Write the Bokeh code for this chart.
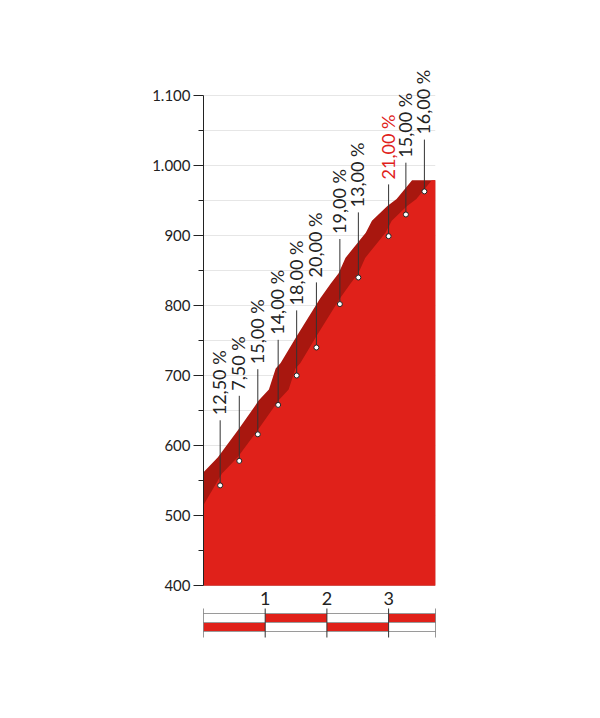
import math
from bokeh.plotting import figure
from bokeh.models import Range1d, FixedTicker, ColumnDataSource
from bokeh.core.properties import value
from bokeh.embed import file_html
from bokeh.resources import INLINE

# ---------------- data ----------------
total_km = 3.76
profile_km = [0.0, 0.30, 0.55, 0.88, 1.16, 1.21, 1.38, 1.49, 1.57, 1.83, 2.21, 2.38,
              2.51, 2.62, 2.95, 3.05, 3.30, 3.45, 3.70, 3.76]
profile_elev = [515, 560, 583, 622, 657, 664, 680, 710, 718, 756, 810, 831,
                846, 868, 904, 921, 942, 952, 979, 979]

marker_km = [0.27, 0.58, 0.88, 1.21, 1.51, 1.83, 2.21, 2.51, 3.00, 3.28, 3.58]
marker_elev = [543, 578, 616, 658, 700, 740, 802, 840, 899, 930, 963]
grade_labels = ["12,50 %", "7,50 %", "15,00 %", "14,00 %", "18,00 %", "20,00 %",
                "19,00 %", "13,00 %", "21,00 %", "15,00 %", "16,00 %"]
steepest = "21,00 %"

y_major = [400, 500, 600, 700, 800, 900, 1000, 1100]
y_minor = [450, 550, 650, 750, 850, 950, 1050]
y_labels = ["400", "500", "600", "700", "800", "900", "1.000", "1.100"]
km_ticks = [1, 2, 3]
km_labels = ["1", "2", "3"]

# ---------------- layout / style ----------------
RED = "#E0211A"
DARK = "#A8170F"
INK = "#222222"
PX = 0.7            # screen px per metre
BASE = 400
SHIFT = 0.32        # km, depth of the 3D band
leader_len = [93] * 8 + [74] * 3

p = figure(frame_width=232, frame_height=595,
           x_range=Range1d(0, total_km), y_range=Range1d(300, 1150),
           output_backend="svg", toolbar_location=None,
           min_border_left=203, min_border_right=140,
           min_border_top=60, min_border_bottom=45)
p.outline_line_color = None
p.xaxis.visible = False
p.xgrid.visible = False
p.ygrid.ticker = FixedTicker(ticks=sorted(y_major + y_minor))
p.ygrid.grid_line_color = "#e6e6e6"
p.ygrid.bounds = (400, 1100)

ax = p.yaxis[0]
ax.ticker = FixedTicker(ticks=y_major, minor_ticks=y_minor)
ax.bounds = (400, 1100)
ax.major_label_overrides = {t: l for t, l in zip(y_major, y_labels)}
ax.axis_line_color = INK
ax.major_tick_line_color = INK
ax.minor_tick_line_color = INK
ax.major_tick_in = 0
ax.major_tick_out = 10
ax.minor_tick_in = 0
ax.minor_tick_out = 5
ax.major_label_standoff = 3
ax.major_label_text_font = "Lato"
ax.major_label_text_font_size = "15px"
ax.major_label_text_color = INK

# dark 3D band: profile shifted back by SHIFT, with the summit flat carried on
dark_x = [k - SHIFT for k in profile_km] + [total_km]
dark_y = list(profile_elev) + [profile_elev[-1]]
p.varea(x=dark_x, y1=[BASE] * len(dark_x), y2=dark_y, fill_color=DARK)
# front face
p.varea(x=profile_km, y1=[BASE] * len(profile_km), y2=profile_elev, fill_color=RED)

# leaders, markers and gradient labels
leader_top = [e + l for e, l in zip(marker_elev, leader_len)]
src = ColumnDataSource(dict(
    x=marker_km, y=marker_elev, top=leader_top, text=grade_labels,
    color=[RED if g == steepest else INK for g in grade_labels]))
p.segment(x0="x", y0="y", x1="x", y1="top", source=src, line_color="#333333", line_width=1)
p.scatter(x="x", y="y", source=src, size=5, fill_color="white", line_color=INK, line_width=1)
p.text(x="x", y="top", text="text", source=src, angle=math.pi / 2,
       text_align="left", text_baseline="alphabetic", x_offset=-1, y_offset=-5,
       text_font=value("Lato"), text_font_size="18px", text_color="color")

# km labels
p.text(x=km_ticks, y=[BASE - 12.5 / PX] * len(km_ticks), text=km_labels,
       text_align="center", text_baseline="middle",
       text_font=value("Lato"), text_font_size="18px", text_color=INK)

# km bar
bounds = [0] + km_ticks + [total_km]
seg_l = bounds[:-1]
seg_r = bounds[1:]
row1_top, row1_bot = BASE - 28 / PX, BASE - 37 / PX
row2_bot = BASE - 46 / PX
top_red = [i % 2 == 1 for i in range(len(seg_l))]
p.quad(left=[l for l, r in zip(seg_l, top_red) if r], right=[s for s, r in zip(seg_r, top_red) if r],
       top=row1_top, bottom=row1_bot, fill_color=RED, line_color=None)
p.quad(left=[l for l, r in zip(seg_l, top_red) if not r], right=[s for s, r in zip(seg_r, top_red) if not r],
       top=row1_bot, bottom=row2_bot, fill_color=RED, line_color=None)
for yy in (row1_top, row1_bot, row2_bot):
    p.segment(x0=[0], y0=[yy], x1=[total_km], y1=[yy], line_color="#9a9a9a", line_width=1)
p.segment(x0=bounds, y0=[BASE - 23 / PX] * len(bounds), x1=bounds,
          y1=[BASE - 52 / PX] * len(bounds), line_color="#333333", line_width=1)

open("out.html", "w").write(file_html(p, INLINE))
